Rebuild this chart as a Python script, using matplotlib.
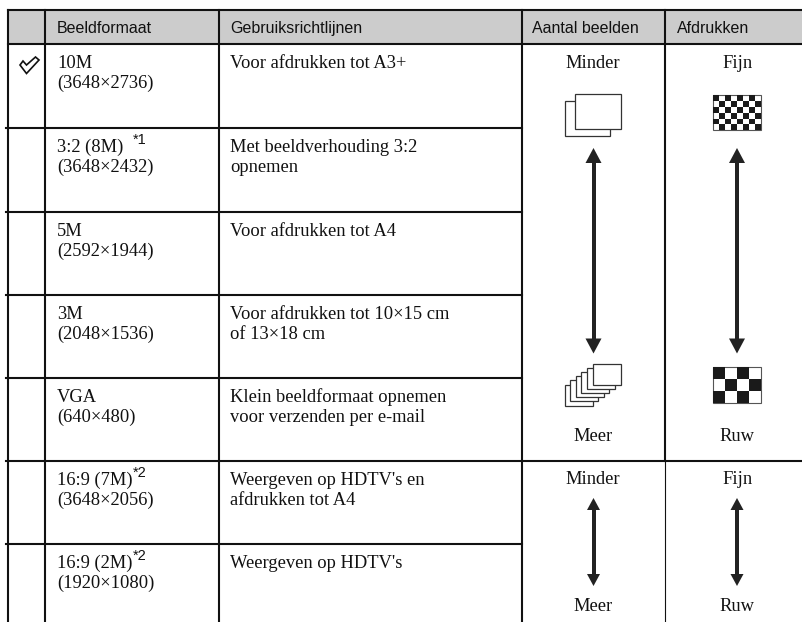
#!/usr/bin/python
# Beeldformaat table, drawn in pixel coords on one full-figure axes
import matplotlib
matplotlib.use('Agg')
import matplotlib.pyplot as plt
from matplotlib.patches import Rectangle, Polygon

headers = ["Beeldformaat", "Gebruiksrichtlijnen", "Aantal beelden", "Afdrukken"]
formats = ["10M", "3:2 (8M)", "5M", "3M", "VGA", "16:9 (7M)", "16:9 (2M)"]
notes = ["", "*1", "", "", "", "*2", "*2"]
sizes = ["(3648×2736)", "(3648×2432)", "(2592×1944)", "(2048×1536)", "(640×480)",
         "(3648×2056)", "(1920×1080)"]
usage = [["Voor afdrukken tot A3+"],
         ["Met beeldverhouding 3:2", "opnemen"],
         ["Voor afdrukken tot A4"],
         ["Voor afdrukken tot 10×15 cm", "of 13×18 cm"],
         ["Klein beeldformaat opnemen", "voor verzenden per e-mail"],
         ["Weergeven op HDTV's en", "afdrukken tot A4"],
         ["Weergeven op HDTV's"]]

row_y = [44, 128, 212, 295, 378, 461, 544]
col_x = [7.5, 45, 219, 521.5]

HEAD = 'Liberation Sans'
SERIF = 'Liberation Serif'
BLACK = '#111111'
FS = 13.3
LW = 1.5

fig = plt.figure(figsize=(8.02, 6.22), dpi=100)
ax = fig.add_axes([0, 0, 1, 1])
ax.set_xlim(0, 802)
ax.set_ylim(622, 0)
ax.axis('off')

# header band
ax.add_patch(Rectangle((7.5, 10), 794.5, 34, fc='#cccccc', ec='none'))

# grid
ax.plot([7.5, 802], [10, 10], color=BLACK, lw=LW)
ax.plot([7.5, 802], [44, 44], color=BLACK, lw=LW)
for x in col_x:
    ax.plot([x, x], [10, 622], color=BLACK, lw=LW)
ax.plot([665, 665], [10, 461], color=BLACK, lw=LW)
ax.plot([665, 665], [461, 622], color=BLACK, lw=0.8)
for y in row_y[1:]:
    ax.plot([6, 521.5], [y, y], color=BLACK, lw=LW)
ax.plot([521.5, 802], [461, 461], color=BLACK, lw=LW)

# header text
head_x = [57, 230, 532, 676.5]
for x, s in zip(head_x, headers):
    ax.text(x, 33, s, family=HEAD, fontsize=11.5, color=BLACK, va='baseline', ha='left')

# rows
for i in range(len(formats)):
    y = row_y[i]
    ax.text(57, y + 24, formats[i], family=SERIF, fontsize=FS, color=BLACK, va='baseline')
    if notes[i]:
        ax.text(132.5, y + 16, notes[i], family=HEAD, fontsize=10.5, color=BLACK, va='baseline')
    ax.text(57, y + 44, sizes[i], family=SERIF, fontsize=FS, color=BLACK, va='baseline')
    for j, s in enumerate(usage[i]):
        ax.text(230, y + 24 + j * 20, s, family=SERIF, fontsize=FS, color=BLACK, va='baseline')

# right hand labels
for cx, top, bottom in [(593, "Minder", "Meer"), (737, "Fijn", "Ruw")]:
    ax.text(cx, 68, top, family=SERIF, fontsize=FS, color=BLACK, ha='center', va='baseline')
    ax.text(cx, 441, bottom, family=SERIF, fontsize=FS, color=BLACK, ha='center', va='baseline')
    ax.text(cx, 484, top, family=SERIF, fontsize=FS, color=BLACK, ha='center', va='baseline')
    ax.text(cx, 611, bottom, family=SERIF, fontsize=FS, color=BLACK, ha='center', va='baseline')


def double_arrow(x, y0, y1, head_w, head_h, shaft):
    ax.add_patch(Rectangle((x - shaft / 2, y0 + head_h), shaft, y1 - y0 - 2 * head_h, fc='#222222', ec='none'))
    ax.add_patch(Polygon([(x, y0), (x - head_w / 2, y0 + head_h), (x + head_w / 2, y0 + head_h)], fc='#222222', ec='none'))
    ax.add_patch(Polygon([(x, y1), (x - head_w / 2, y1 - head_h), (x + head_w / 2, y1 - head_h)], fc='#222222', ec='none'))


double_arrow(593.5, 148, 353.5, 16, 15, 4)
double_arrow(737, 148, 353.5, 16, 15, 4)
double_arrow(593.5, 498, 586, 13, 12, 4)
double_arrow(737, 498, 586, 13, 12, 4)

# stacked sheet icons
def sheet(x, y, w, h):
    ax.add_patch(Rectangle((x, y), w, h, fc='white', ec='#333333', lw=0.9))


sheet(564.5, 101, 45.5, 35)
sheet(575, 94, 45.5, 35)
for k in range(6):
    sheet(564.5 + k * 5.6, 384.5 - k * 4.2, 28, 21)

# check pattern icons
def checker(x0, y0, w, h, nx, ny):
    ax.add_patch(Rectangle((x0, y0), w, h, fc='white', ec='#555555', lw=0.8))
    for r in range(ny):
        for c in range(nx):
            if (r + c) % 2 == 0:
                ax.add_patch(Rectangle((x0 + c * w / nx, y0 + r * h / ny), w / nx, h / ny, fc='#1a1a1a', ec='none'))


checker(713.3, 95, 47.4, 35.3, 8, 6)
checker(713.3, 367.3, 47.4, 35.4, 4, 3)

# check mark
ax.add_patch(Polygon([(20, 65), (23, 61), (26.5, 65), (35.5, 57), (39, 60), (26.5, 73.5)],
                     fc='white', ec=BLACK, lw=1.2, joinstyle='miter'))

fig.savefig('out.png', dpi=100)
